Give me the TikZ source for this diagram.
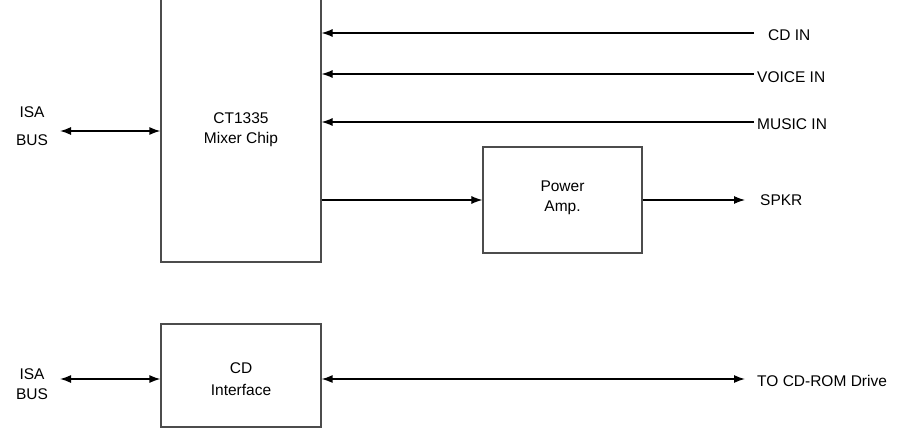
\documentclass[tikz,border=0pt]{standalone}
\usepackage{fontspec}
\setmainfont{Liberation Sans}
\usetikzlibrary{arrows.meta}

\begin{document}
\begin{tikzpicture}[x=1pt,y=-1pt,
        box/.style={draw=black!70, line width=1.2pt, inner sep=0pt},
        txt/.style={inner sep=0pt, align=center, font=\fontsize{15.5}{20}\selectfont},
        sig/.style={line width=1.1pt, -{Latex[length=11pt,width=8pt]}},
        bus/.style={line width=1.4pt, {Latex[length=11pt,width=8pt]}-{Latex[length=11pt,width=8pt]}}]
                \useasboundingbox (0,0) rectangle (905,431);
                % boxes
                \node[box, minimum width=160pt, minimum height=284pt,
                      label={[txt, yshift=-10pt]center:CT1335\\Mixer Chip}] (mixer) at (241,120) {};
                \node[box, minimum width=159pt, minimum height=106pt,
                      label={[txt, yshift=2pt]center:Power\\Amp.}] (amp) at (562.5,200) {};
                \node[box, minimum width=160pt, minimum height=103pt,
                      label={[txt, yshift=-4pt]center:CD\\[2pt]Interface}] (cdif) at (241,375.5) {};
                % outside labels
                \node[txt] (isa1) at (32,126) {ISA\\[8pt]BUS};
                \node[txt] (isa2) at (32,384) {ISA\\BUS};
                \node[txt, anchor=west] (cdin) at (768,35) {CD IN};
                \node[txt, anchor=west] (voicein) at (757,77) {VOICE IN};
                \node[txt, anchor=west] (musicin) at (757,124) {MUSIC IN};
                \node[txt, anchor=west] (spkr) at (760,200) {SPKR};
                \node[txt, anchor=west] (cdrom) at (757,381) {TO CD-ROM Drive};
                % line ends
                \coordinate (incd) at (754,33);
                \coordinate (invoice) at (754,74);
                \coordinate (inmusic) at (754,122);
                \coordinate (bus1) at (60,131);
                \coordinate (bus2) at (60,379);
                \coordinate (out1) at (745,200);
                \coordinate (out2) at (745,379);
                % connectors
                \draw[sig] (incd) -- (mixer.east |- incd);
                \draw[sig] (invoice) -- (mixer.east |- invoice);
                \draw[sig] (inmusic) -- (mixer.east |- inmusic);
                \draw[bus] (bus1) -- (mixer.west |- bus1);
                \draw[sig] (mixer.east |- amp.west) -- (amp.west);
                \draw[sig] (amp.east) -- (out1);
                \draw[bus] (bus2) -- (cdif.west |- bus2);
                \draw[bus] (cdif.east |- out2) -- (out2);
            \end{tikzpicture}
\end{document}
